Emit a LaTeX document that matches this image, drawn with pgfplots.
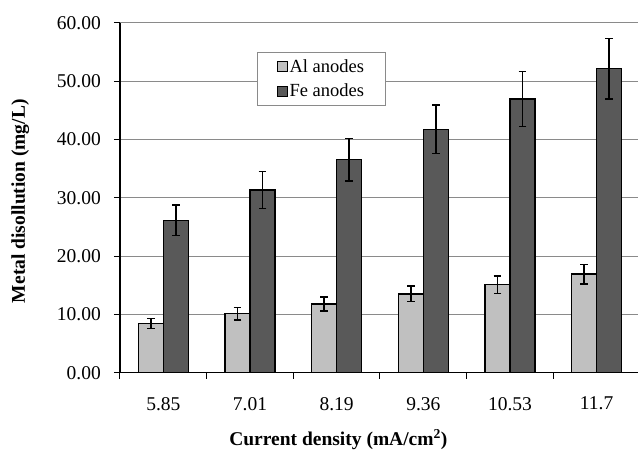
\documentclass[border=0pt]{standalone}
\usepackage{fontspec}
\setmainfont{Liberation Serif}
\usepackage{pgfplots}
\usepackage{pgfplotstable}
\pgfplotsset{compat=1.18}
\definecolor{alc}{HTML}{C0C0C0}
\definecolor{fec}{HTML}{595959}
\definecolor{gridc}{HTML}{8A8A8A}

\pgfplotstableread{
x y e
0 8.4 0.86
1 10.1 1.06
2 11.8 1.20
3 13.5 1.34
4 15.1 1.51
5 16.9 1.69
}\aldata
\pgfplotstableread{
x y e
0 26.1 2.63
1 31.3 3.17
2 36.5 3.63
3 41.7 4.17
4 46.9 4.70
5 52.1 5.20
}\fedata

\begin{document}
\begin{tikzpicture}[x=1pt,y=1pt]
\begin{axis}[
  at={(120pt,77.3pt)}, anchor=south west,
  width=520pt, height=350pt, scale only axis,
  xmin=-0.5, xmax=5.5, ymin=0, ymax=60,
  ytick={0,10,...,60},
  xtick={-0.5,0.5,...,5.5}, xticklabels={},
  extra x ticks={0,1,2,3,4,5},
  extra x tick labels={5.85,7.01,8.19,9.36,10.53,11.7},
  extra x tick style={tick style={draw=none}},
  axis x line*=bottom, axis y line*=left,
  axis line style={black, line width=1.3pt, -},
  ymajorgrids, grid style={gridc, line width=1pt},
  tick align=outside, major tick length=6pt,
  tick style={black, line width=1pt},
  /pgf/number format/assume math mode=true,
  yticklabel style={anchor=east, inner xsep=13pt, /pgf/number format/.cd, fixed, fixed zerofill, precision=2},
  ticklabel style={font=\rmfamily\fontsize{19.5}{22}\selectfont},
  xticklabel style={anchor=center, yshift=-25pt},
  ylabel={Metal disollution (mg/L)},
  xlabel={Current density (mA/cm\textsuperscript{2})},
  label style={font=\rmfamily\bfseries\fontsize{19.5}{22}\selectfont},
  ylabel style={at={(axis description cs:-0.192,0.49)}, anchor=center},
  xlabel style={at={(axis description cs:0.42,-0.191)}, anchor=center},
  ybar=0pt, bar width=25pt,
  legend style={at={(0.2635,0.916)}, anchor=north west, draw=gridc, line width=1pt,
    font=\rmfamily\fontsize{18.5}{22}\selectfont, row sep=6pt, inner xsep=19pt, inner ysep=5pt,
    nodes={font=\rmfamily\fontsize{18.5}{22}\selectfont}},
  legend cell align=left,
]
\addplot[fill=alc, draw=black, line width=1.3pt,
  legend image code/.code={\draw[fill=alc, draw=black, line width=1pt] (0pt,-5pt) rectangle (10pt,5pt);},
  error bars/.cd, y dir=both, y explicit,
  error bar style={black, line width=1.4pt},
  error mark options={rotate=90, mark size=3.8pt, line width=1.4pt, black}]
  table[x=x, y=y, y error=e] {\aldata};
\addlegendentry{Al anodes}
\addplot[fill=fec, draw=black, line width=1.3pt,
  legend image code/.code={\draw[fill=fec, draw=black, line width=1pt] (0pt,-5pt) rectangle (10pt,5pt);},
  error bars/.cd, y dir=both, y explicit,
  error bar style={black, line width=1.4pt},
  error mark options={rotate=90, mark size=3.8pt, line width=1.4pt, black}]
  table[x=x, y=y, y error=e] {\fedata};
\addlegendentry{Fe anodes}
\end{axis}
\pgfresetboundingbox
\useasboundingbox (0,0) rectangle (638,450);
\end{tikzpicture}
\end{document}
